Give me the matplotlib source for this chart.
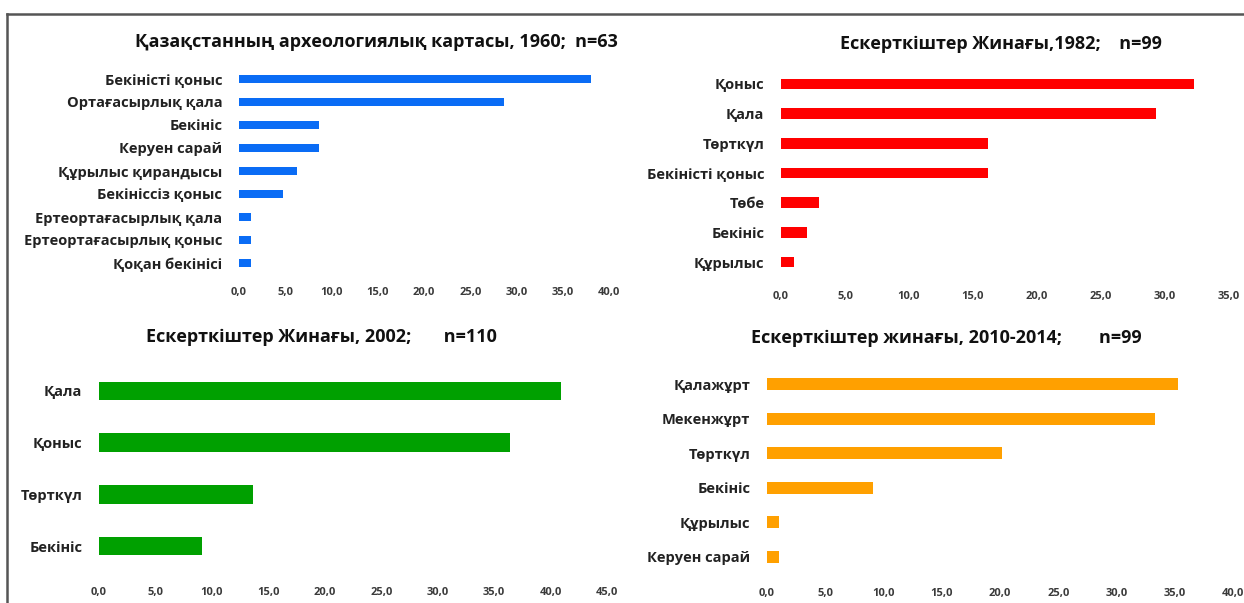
import matplotlib.pyplot as plt
from matplotlib.lines import Line2D

plt.rcParams['font.family'] = ['Open Sans', 'DejaVu Sans']

# --- data (percent of sites) ---
cats_1960 = ["Бекіністі қоныс", "Ортағасырлық қала", "Бекініс", "Керуен сарай",
             "Құрылыс қирандысы", "Бекініссіз қоныс", "Ертеортағасырлық қала",
             "Ертеортағасырлық қоныс", "Қоқан бекінісі"]
vals_1960 = [38.1, 28.6, 8.7, 8.7, 6.3, 4.8, 1.3, 1.3, 1.3]

cats_1982 = ["Қоныс", "Қала", "Төрткүл", "Бекіністі қоныс", "Төбе", "Бекініс", "Құрылыс"]
vals_1982 = [32.3, 29.3, 16.2, 16.2, 3.0, 2.0, 1.0]

cats_2002 = ["Қала", "Қоныс", "Төрткүл", "Бекініс"]
vals_2002 = [40.9, 36.4, 13.6, 9.1]

cats_2014 = ["Қалажұрт", "Мекенжұрт", "Төрткүл", "Бекініс", "Құрылыс", "Керуен сарай"]
vals_2014 = [35.3, 33.3, 20.2, 9.1, 1.0, 1.0]

W, H = 1244, 603
fig = plt.figure(figsize=(W / 100, H / 100), dpi=100)


def px_axes(x0, x1, ytop, ybot):
    return fig.add_axes([x0 / W, 1 - ybot / H, (x1 - x0) / W, (ybot - ytop) / H])


def panel(ax, cats, vals, color, xmax, title, title_xy, label_fs, xpad):
    y = list(range(len(cats)))
    ax.barh(y, vals, height=0.36, color=color)
    ax.set_ylim(len(cats) - 0.5, -0.5)
    ax.set_xlim(0, xmax)
    ax.set_yticks(y)
    ax.set_yticklabels(cats, fontsize=label_fs, fontweight='bold', color='#222222')
    ticks = list(range(0, xmax + 1, 5))
    ax.set_xticks(ticks)
    ax.set_xticklabels([f"{t},0" for t in ticks], fontsize=8, fontweight='bold', color='#3a3a3a')
    ax.tick_params(length=0)
    ax.tick_params(axis='x', pad=xpad)
    ax.tick_params(axis='y', pad=12)
    for s in ax.spines.values():
        s.set_visible(False)
    fig.text(title_xy[0] / W, 1 - title_xy[1] / H, title, ha='center', va='center',
             fontsize=13, fontweight='bold', color='#111111')


ax1 = px_axes(239, 609, 67.5, 274.5)
panel(ax1, cats_1960, vals_1960, '#0a6cf5', 40,
      "Қазақстанның археологиялық картасы, 1960;  n=63", (376, 42), 10.5, 9)

ax2 = px_axes(781, 1229, 69, 277)
panel(ax2, cats_1982, vals_1982, '#ff0000', 35,
      "Ескерткіштер Жинағы,1982;    n=99", (1001, 44), 10.5, 10)

ax3 = px_axes(99, 607, 365, 572)
panel(ax3, cats_2002, vals_2002, '#00a000', 45,
      "Ескерткіштер Жинағы, 2002;       n=110", (321, 337), 10.5, 11)

ax4 = px_axes(767, 1233, 367, 574)
panel(ax4, cats_2014, vals_2014, '#ffa000', 40,
      "Ескерткіштер жинағы, 2010-2014;        n=99", (946, 338), 10.5, 10)

# frame lines (top and left)
fig.add_artist(Line2D([7 / W, 1], [1 - 14 / H, 1 - 14 / H], color='#555555', lw=1.8))
fig.add_artist(Line2D([7 / W, 7 / W], [0, 1 - 14 / H], color='#555555', lw=1.8))

fig.savefig('out.png', dpi=100)
